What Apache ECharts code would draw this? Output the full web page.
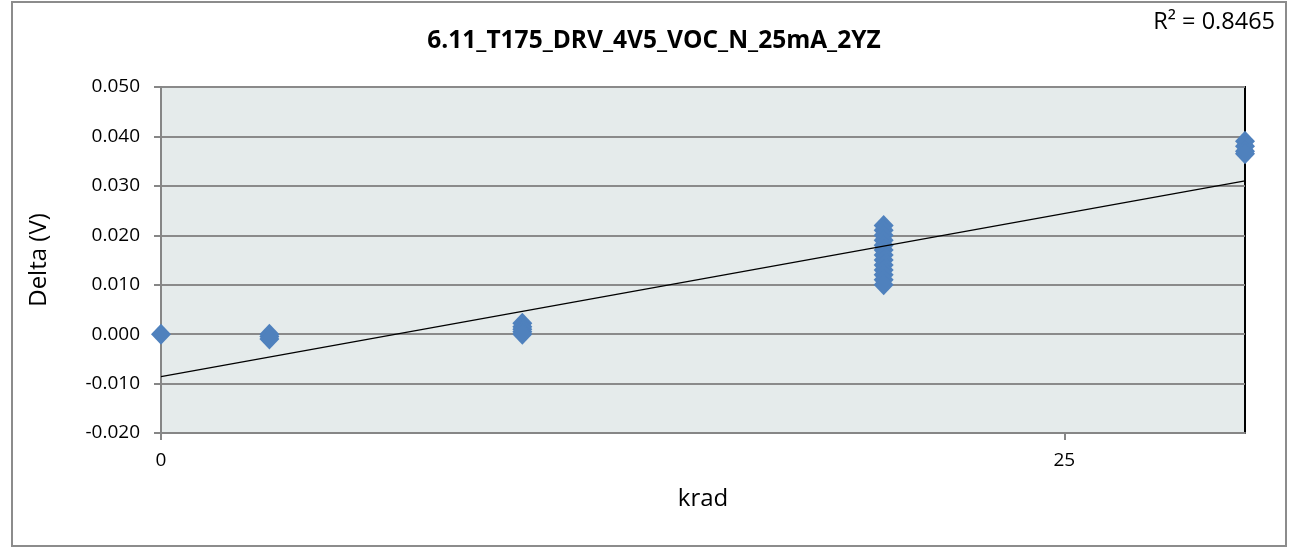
<!DOCTYPE html>
<html>
<head>
<meta charset="utf-8">
<script src="https://cdn.jsdelivr.net/npm/echarts@6/dist/echarts.min.js"></script>
<style>
html,body{margin:0;padding:0;background:#fff;}
#frame{position:absolute;left:11px;top:1px;width:1272px;height:542px;border:2px solid #8c8c8c;}
#c{position:absolute;left:0;top:0;width:1293px;height:547px;}
</style>
</head>
<body>
<div id="frame"></div>
<div id="c"></div>
<script>
// data
const krad = [0, 3, 3, 3, 10, 10, 10, 10, 10,
  20, 20, 20, 20, 20, 20, 20, 20, 20, 20, 20, 20, 20,
  30, 30, 30, 30];
const delta = [0.000, 0.000, -0.0005, -0.001, 0.0022, 0.0015, 0.001, 0.0005, 0.000,
  0.022, 0.021, 0.020, 0.019, 0.018, 0.017, 0.016, 0.015, 0.014, 0.013, 0.012, 0.011, 0.010,
  0.039, 0.038, 0.037, 0.0365];
const trendX = [0, 30];
const trendY = [-0.0086, 0.0310];
const xTicks = [0, 25];
const title = '6.11_T175_DRV_4V5_VOC_N_25mA_2YZ';
const r2Label = 'R² = 0.8465';

const font = "'Open Sans', 'Liberation Sans', sans-serif";
const chart = echarts.init(document.getElementById('c'));
chart.setOption({
  animation: false,
  title: {
    text: title, left: 649, top: 24, textAlign: 'center',
    textStyle: {fontFamily: font, fontWeight: 'bold', fontSize: 24.5, color: '#000'}
  },
  graphic: [{
    type: 'text', right: 18, top: 10,
    style: {text: r2Label, font: "23.5px 'Open Sans', sans-serif", fill: '#000'}
  }],
  grid: {left: 161, right: 48, top: 87, bottom: 114, show: true,
    backgroundColor: '#e5ebeb', borderColor: '#000', borderWidth: 2},
  xAxis: {
    type: 'value', min: 0, max: 30, interval: 25,
    name: 'krad', nameLocation: 'middle', nameGap: 54,
    nameTextStyle: {fontFamily: font, fontSize: 24, color: '#000'},
    axisLine: {onZero: false, lineStyle: {color: '#868686', width: 2}},
    axisTick: {show: true, length: 7, inside: false, customValues: xTicks, lineStyle: {color: '#868686', width: 2}},
    axisLabel: {customValues: xTicks, fontFamily: font, fontSize: 19, color: '#000', margin: 18},
    splitLine: {show: false}
  },
  yAxis: {
    type: 'value', min: -0.02, max: 0.05, interval: 0.01,
    name: 'Delta (V)', nameLocation: 'middle', nameGap: 110, nameRotate: 90,
    nameTextStyle: {fontFamily: font, fontSize: 24, color: '#000'},
    axisLine: {show: true, lineStyle: {color: '#868686', width: 2}},
    axisTick: {show: true, length: 7, lineStyle: {color: '#868686', width: 2}},
    axisLabel: {fontFamily: font, fontSize: 19, color: '#000', margin: 21,
      formatter: v => v.toFixed(3)},
    splitLine: {show: true, lineStyle: {color: '#8a8a8a', width: 2}}
  },
  series: [{
    type: 'scatter', symbol: 'diamond', symbolSize: [20, 21],
    itemStyle: {color: '#4f81bd', opacity: 1},
    data: krad.map((k, i) => [k, delta[i]]),
    z: 3
  }, {
    type: 'line', symbol: 'none', silent: true,
    lineStyle: {color: '#000', width: 1.2},
    data: trendX.map((k, i) => [k, trendY[i]]),
    z: 4
  }]
});
</script>
</body>
</html>
